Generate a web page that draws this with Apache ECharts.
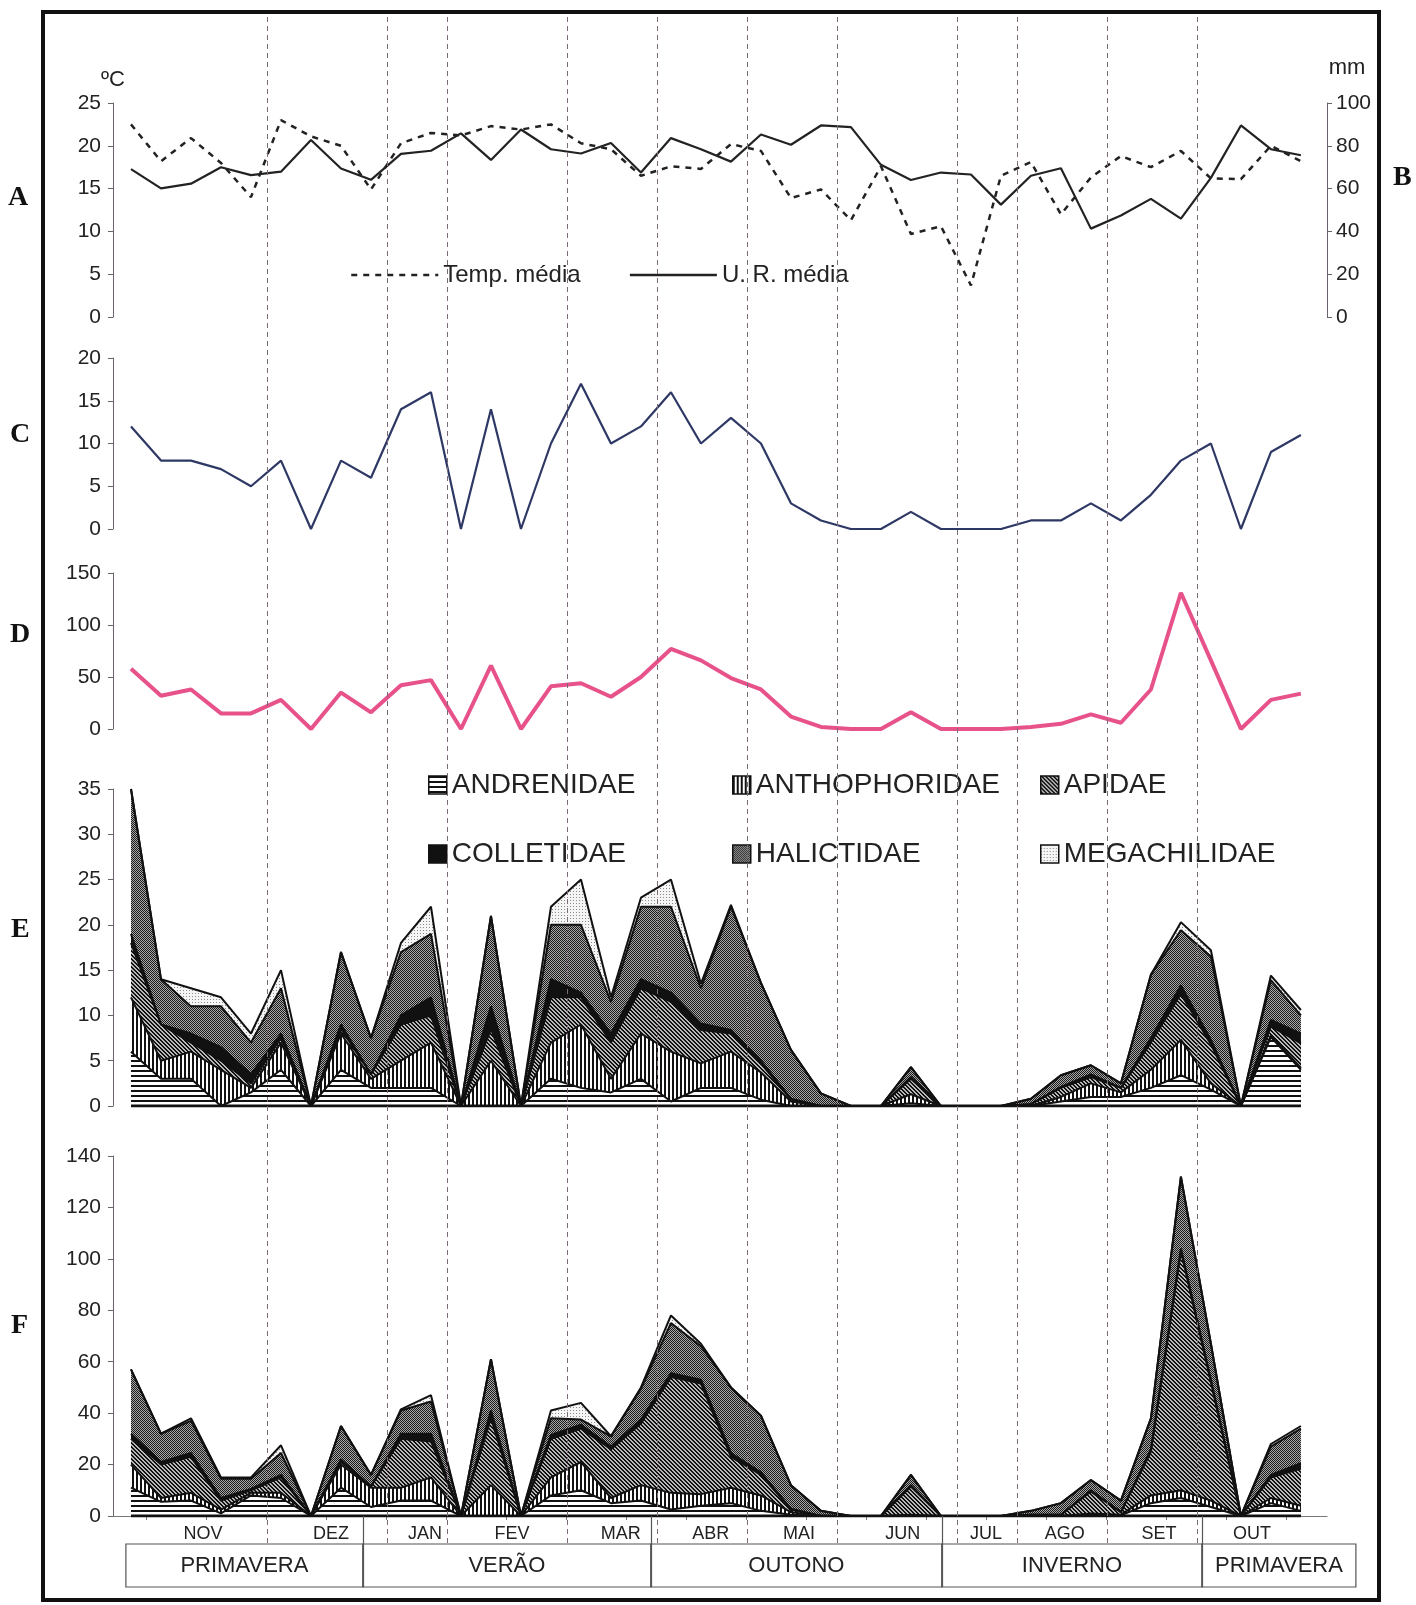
<!DOCTYPE html>
<html><head><meta charset="utf-8">
<script src="https://cdn.jsdelivr.net/npm/echarts@6/dist/echarts.min.js"></script>
<style>html,body{margin:0;padding:0;background:#fff;}#c{width:1416px;height:1605px;}</style>
</head><body><div id="c"></div>
<script>
// ---- DATA ----
const temp = [22.5,18.2,20.9,18,14,23,21.1,20,14.9,20.3,21.5,21.2,22.3,21.9,22.5,20.3,19.6,16.5,17.6,17.3,20.2,19.4,13.9,14.9,11.3,17.6,9.7,10.6,3.7,16.5,18.1,12,16.3,18.8,17.5,19.4,16.2,16.1,20,18.2];
const ur = [69.1,60.1,62.3,70,66.3,67.9,82.7,69.4,64.1,76.2,77.7,85.8,73.4,87.6,78.4,76.4,81.3,67.5,83.6,78.4,72.6,85.3,80.5,89.5,88.7,71.1,64,67.5,66.6,52.5,66,69.5,41.3,47.4,55.2,46,65,89.5,78.4,75.6];
const panelC = [12,8,8,7,5,8,0,8,6,14,16,0,14,0,10,17,10,12,16,10,13,10,3,1,0,0,2,0,0,0,1,1,3,1,4,8,10,0,9,11];
const panelD = [58,32,38,15,15,28,0,35,16,42,47,0,61,0,41,44,31,50,77,66,49,38,12,2,0,0,16,0,0,0,2,5,14,6,38,131,66,0,28,34];

const families = ['ANDRENIDAE','ANTHOPHORIDAE','APIDAE','COLLETIDAE','HALICTIDAE','MEGACHILIDAE'];
// panel E (stacked, bottom to top)
const eAndrenidae   = [6,3,3,0,1.5,4,0,4,2,2,2,0,0,0,3,2,1.5,3,0.5,2,2,0.7,0,0,0,0,0.3,0,0,0,0,0.5,1,1,2,3.4,1.8,0,7.6,4];
const eAnthophoridae= [6,2,3,4,0.5,3,0,4,1,3,5,0,5,0,4,7,1.5,5,5.5,2.7,4,3,0.5,0,0,0,1,0,0,0,0,0.5,1.5,0.5,2,3.9,0.7,0,0.2,0.2];
const eApidae       = [6,4,1,1,0.5,0.5,0,0.5,0.5,4,3,0,3.5,0,5,3,4,5,5.5,3.7,2,1,0.2,0,0,0,1.7,0,0,0,0.2,1,0.7,0.5,3,5.1,4.3,0,1,2.7];
const eColletidae   = [1,0,1,1.5,1,0.5,0,0.5,0,1,2,0,2.5,0,2,0.5,1,1,1,0.7,0.4,0.3,0.1,0,0,0,0.2,0,0,0,0,0.1,0.3,0,0.5,0.9,0.5,0,0.7,1.1];
const eHalictidae   = [16,5,3,4.5,3.5,5,0,8,4,7,7,0,10,0,6,7.5,3.5,8,9.5,3.9,13.6,8.6,5.4,1.4,0,0,1.1,0,0,0,0.6,1.3,1,0.5,7,6.1,9.2,0,4.4,2];
const eMegachilidae = [0,0,2,1,1,2,0,0,0,1,3,0,0,0,2,5,0.5,1,3,0.5,0.2,0,0,0,0,0,0,0,0,0,0,0,0,0,0,0.9,0.7,0,0.5,0.6];
// panel F (stacked, bottom to top)
const fAndrenidae   = [11,5.5,6,1,8,7,0,11,3.5,6,6,0,0,0,8,10,5,6,2.5,4,5,2,0.5,0,0,0,0,0,0,0,0,0,0.5,0.3,5,7,3.5,0,5,2];
const fAnthophoridae= [9,1.5,3,1.5,1,2,0,9,7.5,5,9,0,12,0,7,11,2,6,6.5,4.5,6,6,1,0,0,0,0.5,0,0,0,0,0,0.5,0.2,3,3,2.5,0,2,2];
const fApidae       = [10,13,14,3.5,1,6,0,1,0.5,19,14,0,26,0,15,13,19,24,45,43,12,8,1,0,0,0,11,0,0,0,0.5,0.5,8.5,1,17,93,46,0,8,14.5];
const fColletidae   = [2,1,1.5,1,0.5,1,0,1,0,2,3,0,3,0,1.5,1.5,1,1.5,1.5,1.5,1.5,1,0.3,0,0,0,0.5,0,0,0,0,0,0.5,0,1,1,1,0,1,2];
const fHalictidae   = [25,11,12.5,7.5,4,8.5,0,13,4.5,9,12.5,0,20,0,6.5,2,4,12,19.5,13,25.5,22,9.2,2,0,0,4,0,0,0,1.5,4.5,4,4.5,12,28,14,0,11,13.5];
const fMegachilidae = [0,0,1,0.5,0.5,3,0,0,0,0.5,2.5,0,0,0,3,6.5,0,0.5,3,1,0,0,0,0,0,0,0,0,0,0,0,0,0,0,0,0,0,0,1,1];

const months = ['NOV','DEZ','JAN','FEV','MAR','ABR','MAI','JUN','JUL','AGO','SET','OUT'];
const monthLabelAt = [2.4,6.67,9.8,12.7,16.33,19.33,22.27,25.73,28.5,31.13,34.27,37.37];
const monthBoundaries = [4.55,8.55,10.55,14.55,17.55,20.55,23.55,27.55,29.55,32.55,35.55];
const seasons = ['PRIMAVERA','VERÃO','OUTONO','INVERNO','PRIMAVERA'];
const seasonEdges = [-0.17,7.73,17.33,27.03,35.7,40.83];

// ---- helpers ----
const FONT = "'Liberation Sans', Arial, sans-serif";
const xy = arr => arr.map((v,i)=>[i,v]);
// cumulative sums (the stacking table built from the per-family arrays)
const cumulate = layers => layers.map((_,k)=>layers[0].map((__,i)=>layers.slice(0,k+1).reduce((s,a)=>s+a[i],0)));
function pat(w,h,fn){const c=document.createElement('canvas');c.width=w;c.height=h;const g=c.getContext('2d');fn(g);return {image:c,repeat:'repeat'};}
const fills = [
  pat(4,5,g=>{g.fillStyle='#fff';g.fillRect(0,0,4,5);g.fillStyle='#111';g.fillRect(0,0,4,2);}),
  pat(4,4,g=>{g.fillStyle='#fff';g.fillRect(0,0,4,4);g.fillStyle='#111';g.fillRect(0,0,2,4);}),
  pat(4,4,g=>{g.fillStyle='#b8b8b8';g.fillRect(0,0,4,4);g.fillStyle='#111';for(let k=0;k<4;k++){g.fillRect(k,k,1,1);g.fillRect((k+1)%4,k,1,1);}}),
  '#111',
  pat(2,2,g=>{g.fillStyle='#a8a8a8';g.fillRect(0,0,2,2);g.fillStyle='#1a1a1a';g.fillRect(0,0,1,1);g.fillRect(1,1,1,1);}),
  pat(3,3,g=>{g.fillStyle='#f5f5f5';g.fillRect(0,0,3,3);g.fillStyle='#8a8a8a';g.fillRect(0,0,1,1);})
];
const eCum = cumulate([eAndrenidae,eAnthophoridae,eApidae,eColletidae,eHalictidae,eMegachilidae]);
const fCum = cumulate([fAndrenidae,fAnthophoridae,fApidae,fColletidae,fHalictidae,fMegachilidae]);

const AX = '#6d6270';
const xPanel = g => ({type:'value',gridIndex:g,min:-0.6,max:39.87,show:false});
const yPanel = (g,max,interval,extra) => Object.assign({
  type:'value',gridIndex:g,min:0,max:max,interval:interval,
  axisLine:{show:true,onZero:false,lineStyle:{color:AX,width:1}},
  axisTick:{show:true,length:5,lineStyle:{color:AX}},
  axisLabel:{fontSize:21,color:'#222',fontFamily:FONT,margin:12},
  splitLine:{show:false}
}, extra||{});

const grids = [
  {left:113,right:89,top:103,height:214},   // A
  {left:113,right:89,top:358,height:171},   // C
  {left:113,right:89,top:573,height:156},   // D
  {left:113,right:89,top:789,height:317},   // E
  {left:113,right:89,top:1156,height:360},  // F
  {left:101,right:55,top:14,height:1529},   // overlay dashed lines
  {left:101,right:55,top:1516,height:71}    // seasons
];

const xAxes = [xPanel(0),xPanel(1),xPanel(2),xPanel(3),
  {type:'value',gridIndex:4,min:-0.6,max:39.87,
   axisLine:{show:true,onZero:false,lineStyle:{color:'#777',width:1}},
   axisTick:{show:true,length:4,inside:false,customValues:[0.5,2.5,4.5,6.5,8.5,10.5,12.5,14.5,16.5,18.5,20.5,22.5,24.5,26.5,28.5,30.5,32.5,34.5,36.5,38.5],lineStyle:{color:'#777'}},
   axisLabel:{customValues:monthLabelAt,formatter:v=>months[monthLabelAt.indexOf(v)]||'',fontSize:18,color:'#222',fontFamily:FONT,margin:9},
   splitLine:{show:false}},
  {type:'value',gridIndex:5,min:-1,max:41,show:false},
  {type:'value',gridIndex:6,min:-1,max:41,show:false}
];
const yAxes = [
  yPanel(0,25,5,{name:'ºC',nameLocation:'end',nameGap:12,nameTextStyle:{fontSize:22,color:'#222',fontFamily:FONT,align:'center'}}),
  yPanel(0,100,20,{position:'right',axisLabel:{fontSize:21,color:'#222',fontFamily:FONT,margin:9},name:'mm',nameLocation:'end',nameGap:24,nameTextStyle:{fontSize:22,color:'#222',fontFamily:FONT,align:'center',padding:[0,0,0,40]}}),
  yPanel(1,20,5),
  yPanel(2,150,50),
  yPanel(3,35,5),
  yPanel(4,140,20),
  {type:'value',gridIndex:5,min:0,max:1,show:false},
  {type:'value',gridIndex:6,min:0,max:71/43,show:false}
];

const series = [];
// dashed month boundaries
series.push({type:'line',name:'_months',xAxisIndex:5,yAxisIndex:6,data:[[-1,0]],symbol:'none',lineStyle:{width:0},z:0,silent:true,
  markLine:{silent:true,symbol:'none',label:{show:false},lineStyle:{type:[5,4],color:'#7a6a7a',width:1},data:monthBoundaries.map(v=>({xAxis:v}))}});
// season box
series.push({type:'line',name:'_seasons',xAxisIndex:6,yAxisIndex:7,data:[[-1,0]],symbol:'none',lineStyle:{width:0},silent:true,
  markArea:{silent:true,itemStyle:{color:'rgba(0,0,0,0)',borderColor:'#555',borderWidth:1.2},
    label:{show:true,position:'inside',fontSize:22,color:'#222',fontFamily:FONT},
    data:seasons.map((s,k)=>[{name:s,xAxis:seasonEdges[k],yAxis:0},{xAxis:seasonEdges[k+1],yAxis:1}])},
  markLine:{silent:true,symbol:'none',label:{show:false},lineStyle:{type:'solid',color:'#555',width:1.2},
    data:seasonEdges.slice(1,5).map(v=>({xAxis:v}))}});
// A
series.push({type:'line',name:'Temp. média',xAxisIndex:0,yAxisIndex:0,data:xy(temp),symbol:'none',lineStyle:{color:'#222',width:2.5,type:[6,6]}});
series.push({type:'line',name:'U. R. média',xAxisIndex:0,yAxisIndex:1,data:xy(ur),symbol:'none',lineStyle:{color:'#222',width:2.2}});
// C, D
series.push({type:'line',name:'C',xAxisIndex:1,yAxisIndex:2,data:xy(panelC),symbol:'none',lineStyle:{color:'#2e3865',width:2.2}});
series.push({type:'line',name:'D',xAxisIndex:2,yAxisIndex:3,data:xy(panelD),symbol:'none',lineStyle:{color:'#e8528b',width:4}});
// E, F stacked areas: drawn from top layer down, each filled to zero and covering the lower part
for (let k=families.length-1;k>=0;k--){
  series.push({type:'line',name:families[k],xAxisIndex:3,yAxisIndex:4,data:xy(eCum[k]),symbol:'none',z:2,
    lineStyle:{color:'#111',width:2},areaStyle:{color:fills[k],opacity:1},itemStyle:{color:fills[k]}});
}
for (let k=families.length-1;k>=0;k--){
  series.push({type:'line',name:families[k],xAxisIndex:4,yAxisIndex:5,data:xy(fCum[k]),symbol:'none',z:2,
    lineStyle:{color:'#111',width:2},areaStyle:{color:fills[k],opacity:1},itemStyle:{color:fills[k]}});
}
series.push({type:'line',name:'_baseE',xAxisIndex:3,yAxisIndex:4,data:xy(eCum[0].map(()=>0)),symbol:'none',z:3,lineStyle:{color:'#111',width:3}});
series.push({type:'line',name:'_baseF',xAxisIndex:4,yAxisIndex:5,data:xy(fCum[0].map(()=>0)),symbol:'none',z:3,lineStyle:{color:'#111',width:3}});

const famLegend = (names,left) => ({
  orient:'vertical',left:left,top:766,itemGap:41,itemWidth:18,itemHeight:18,icon:'rect',selectedMode:false,
  textStyle:{fontSize:28,color:'#222',fontFamily:FONT},
  data:names.map(n=>({name:n,itemStyle:{color:fills[families.indexOf(n)],borderColor:'#111',borderWidth:1.5}}))
});
const noSym = {color:'rgba(0,0,0,0)',borderColor:'rgba(0,0,0,0)',borderWidth:0};

const titleStyle = {fontFamily:"'Liberation Serif', 'DejaVu Serif', serif",fontWeight:'bold',fontSize:28,color:'#111'};
const chart = echarts.init(document.getElementById('c'),null,{renderer:'canvas'});
chart.setOption({
  animation:false,
  backgroundColor:'#fff',
  title:[
    {text:'A',left:8,top:184,padding:0,textStyle:titleStyle},
    {text:'B',left:1393,top:164,padding:0,textStyle:titleStyle},
    {text:'C',left:10,top:421,padding:0,textStyle:titleStyle},
    {text:'D',left:10,top:621,padding:0,textStyle:titleStyle},
    {text:'E',left:11,top:916,padding:0,textStyle:titleStyle},
    {text:'F',left:11,top:1312,padding:0,textStyle:titleStyle}
  ],
  legend:[
    {data:[{name:'Temp. média',itemStyle:noSym},{name:'U. R. média',itemStyle:noSym}],left:345,top:258,itemWidth:87,itemHeight:14,itemGap:48,selectedMode:false,
     textStyle:{fontSize:24,color:'#222',fontFamily:FONT},lineStyle:{width:2.5}},
    famLegend(['ANDRENIDAE','COLLETIDAE'],423),
    famLegend(['ANTHOPHORIDAE','HALICTIDAE'],727),
    famLegend(['APIDAE','MEGACHILIDAE'],1035)
  ],
  grid:grids,
  xAxis:xAxes,
  yAxis:yAxes,
  series:series,
  graphic:[{type:'rect',silent:true,z:100,shape:{x:43,y:12,width:1336,height:1588},style:{fill:'none',stroke:'#111',lineWidth:4}}]
});
</script></body></html>
